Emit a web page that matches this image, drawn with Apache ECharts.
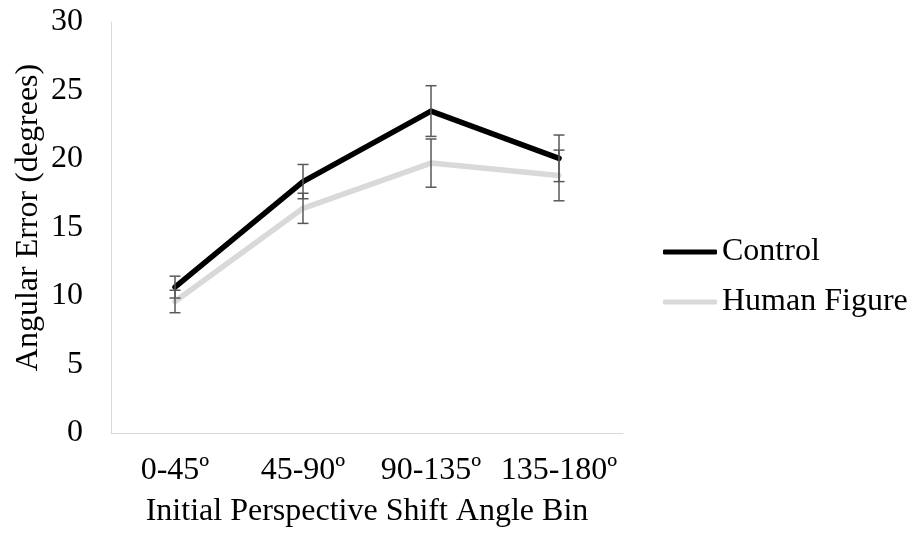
<!DOCTYPE html>
<html>
<head>
<meta charset="utf-8">
<script src="https://cdn.jsdelivr.net/npm/echarts@6/dist/echarts.min.js"></script>
<style>
  html, body { margin: 0; padding: 0; background: #fff; }
  #chart { width: 911px; height: 535px; }
</style>
</head>
<body>
<div id="chart"></div>
<script>
// Angle bins on the x axis
const categories = ['0-45º', '45-90º', '90-135º', '135-180º'];

// Mean angular error per bin (degrees)
const controlMean = [10.65, 18.35, 23.5, 20.05];
const humanMean = [9.6, 16.4, 19.7, 18.8];

// Error bar half-lengths (degrees)
const controlErr = [0.8, 1.25, 1.85, 1.7];
const humanErr = [0.82, 1.1, 1.76, 1.85];

const yTicks = { min: 0, max: 30, interval: 5 };

const FONT = '"Liberation Serif", "Times New Roman", serif';
const FS = 32;

function errorSeries(name, means, errs, z) {
  const data = means.map((m, i) => [i, m - errs[i], m + errs[i]]);
  return {
    name: name + ' error',
    type: 'custom',
    z: z,
    silent: true,
    renderItem: function (params, api) {
      const x = api.value(0);
      const lo = api.coord([x, api.value(1)]);
      const hi = api.coord([x, api.value(2)]);
      const half = 5.5;
      const style = { stroke: '#595959', lineWidth: 1.5, fill: null };
      return {
        type: 'group',
        children: [
          { type: 'line', shape: { x1: hi[0], y1: hi[1], x2: lo[0], y2: lo[1] }, style: style },
          { type: 'line', shape: { x1: hi[0] - half, y1: hi[1], x2: hi[0] + half, y2: hi[1] }, style: style },
          { type: 'line', shape: { x1: lo[0] - half, y1: lo[1], x2: lo[0] + half, y2: lo[1] }, style: style }
        ]
      };
    },
    encode: { x: 0, y: [1, 2] },
    data: data
  };
}

const chart = echarts.init(document.getElementById('chart'), null, { renderer: 'canvas' });

chart.setOption({
  animation: false,
  backgroundColor: '#ffffff',
  textStyle: { fontFamily: FONT },
  grid: { left: 111, right: 288, top: 22, bottom: 102, containLabel: false },
  legend: {
    orient: 'vertical',
    left: 663,
    top: 236,
    padding: 0,
    itemWidth: 54,
    itemHeight: 5,
    itemGap: 18,
    icon: 'roundRect',
    data: ['Control', 'Human Figure'],
    textStyle: { fontFamily: FONT, fontSize: FS, color: '#000', lineHeight: 32 }
  },
  xAxis: {
    type: 'category',
    data: categories,
    boundaryGap: true,
    name: 'Initial Perspective Shift Angle Bin',
    nameLocation: 'middle',
    nameGap: 63,
    nameMoveOverlap: false,
    nameTextStyle: { fontFamily: FONT, fontSize: FS, color: '#000' },
    axisLine: { lineStyle: { color: '#d9d9d9', width: 1 } },
    axisTick: { show: false },
    axisLabel: { interval: 0, hideOverlap: false, fontFamily: FONT, fontSize: FS, color: '#000', margin: 22 },
    splitLine: { show: false }
  },
  yAxis: {
    type: 'value',
    min: yTicks.min,
    max: yTicks.max,
    interval: yTicks.interval,
    name: 'Angular Error (degrees)',
    nameLocation: 'middle',
    nameGap: 66,
    nameMoveOverlap: false,
    nameTextStyle: { fontFamily: FONT, fontSize: FS, color: '#000', padding: [0, 0, 0, 20] },
    axisLine: { show: true, lineStyle: { color: '#d9d9d9', width: 1 } },
    axisTick: { show: false },
    axisLabel: { fontFamily: FONT, fontSize: FS, color: '#000', margin: 28 },
    splitLine: { show: false }
  },
  series: [
    {
      name: 'Control',
      type: 'line',
      data: controlMean,
      z: 4,
      symbol: 'none',
      showSymbol: false,
      itemStyle: { color: '#000000' },
      lineStyle: { color: '#000000', width: 5.5, cap: 'round', join: 'round' }
    },
    {
      name: 'Human Figure',
      type: 'line',
      data: humanMean,
      z: 2,
      symbol: 'none',
      showSymbol: false,
      itemStyle: { color: '#d9d9d9' },
      lineStyle: { color: '#d9d9d9', width: 5.5, cap: 'round', join: 'round' }
    },
    errorSeries('Human Figure', humanMean, humanErr, 3),
    errorSeries('Control', controlMean, controlErr, 5)
  ]
});
</script>
</body>
</html>
